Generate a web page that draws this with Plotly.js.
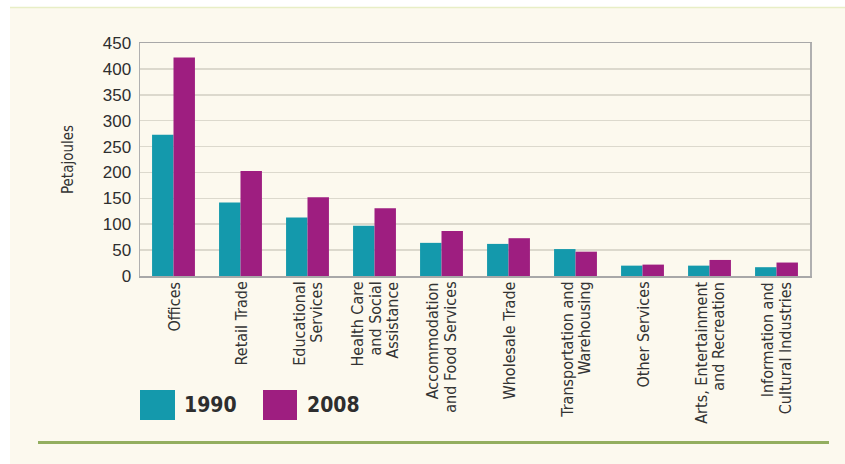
<!DOCTYPE html>
<html><head><meta charset="utf-8">
<script src="https://cdn.plot.ly/plotly-3.0.1.min.js"></script>
<style>html,body{margin:0;padding:0;background:#fff}#chart{width:845px;height:464px}</style>
</head><body><div id="chart"></div>
<script>
const categories = ["Offices","Retail Trade","Educational\nServices","Health Care\nand Social\nAssistance","Accommodation\nand Food Services","Wholesale Trade","Transportation and\nWarehousing","Other Services","Arts, Entertainment\nand Recreation","Information and\nCultural Industries"];
const seriesNames = ["1990","2008"];
const values1990 = [273,142,113,97,64,62,52,20,20,17];
const values2008 = [422,203,152,131,87,73,47,22,31,26];
const yTickVals = [0,50,100,150,200,250,300,350,400,450];
const yTitle = "Petajoules";

const W = 845, H = 464;
const M = {l:140, r:35, t:43, b:188};
const PW = W - M.l - M.r, PH = H - M.t - M.b;
const px2x = p => (p - M.l) / PW;
const py2y = p => (H - M.b - p) / PH;

const teal = "#1499ac", mag = "#9e1e80";
const narrow = '"DejaVu Sans Condensed", "Liberation Sans Narrow", sans-serif';
const txt = "#333333";

const traces = [
  {type:"bar", name:seriesNames[0], x:categories, y:values1990, marker:{color:teal}, hoverinfo:"y"},
  {type:"bar", name:seriesNames[1], x:categories, y:values2008, marker:{color:mag}, hoverinfo:"y"}
];

const annotations = [];
categories.forEach(c => {
  const lines = c.split("\n");
  const L = lines.length;
  lines.forEach((ln, j) => {
    annotations.push({
      x:c, xref:"x", y:0, yref:"paper", yanchor:"top", xanchor:"center",
      textangle:-90, text:ln, showarrow:false, yshift:-4,
      xshift:(j - (L-1)/2) * 17.5,
      font:{family:narrow, size:16, color:txt}
    });
  });
});
// legend text
const legX = [182, 305];
seriesNames.forEach((n, i) => {
  annotations.push({
    x:px2x(legX[i]), xref:"paper", y:py2y(405), yref:"paper",
    xanchor:"left", yanchor:"middle", text:"<b>"+n+"</b>", showarrow:false,
    font:{family:narrow, size:21, color:"#2e2e2e"}
  });
});

const legBoxes = [[140,175,teal],[263,297,mag]];
const shapes = [
  {type:"rect", xref:"paper", yref:"paper", layer:"below",
   x0:px2x(10), x1:px2x(846), y0:py2y(7), y1:py2y(465),
   fillcolor:"#fcf9ee", line:{width:0}},
  {type:"line", xref:"paper", yref:"paper", layer:"below",
   x0:px2x(10), x1:px2x(846), y0:py2y(7.5), y1:py2y(7.5),
   line:{color:"#e8eec6", width:1.5}},
  {type:"line", xref:"paper", yref:"paper",
   x0:px2x(38), x1:px2x(829), y0:py2y(442.5), y1:py2y(442.5),
   line:{color:"#93ae5f", width:3}}
];
legBoxes.forEach(b => shapes.push({
  type:"rect", xref:"paper", yref:"paper",
  x0:px2x(b[0]), x1:px2x(b[1]), y0:py2y(390), y1:py2y(420),
  fillcolor:b[2], line:{width:0}
}));

const layout = {
  width:W, height:H,
  margin:M,
  paper_bgcolor:"#ffffff",
  plot_bgcolor:"rgba(0,0,0,0)",
  showlegend:false,
  barmode:"group",
  bargap:0.36, bargroupgap:0,
  xaxis:{
    type:"category", showticklabels:false, ticks:"",
    showline:true, linecolor:"#a8a8a8", linewidth:1.5, mirror:true,
    showgrid:false, fixedrange:true
  },
  yaxis:{
    range:[0,450], tickvals:yTickVals, ticks:"",
    showline:true, linecolor:"#b0b0b0", linewidth:1.5, mirror:true,
    gridcolor:"#dcd9cd", gridwidth:1.5, zeroline:false,
    tickfont:{family:'"Liberation Sans", Arial, sans-serif', size:17, color:"#2e2e2e"},
    ticklabelstandoff:4,
    title:{text:yTitle, font:{family:narrow, size:15, color:txt}, standoff:25},
    fixedrange:true
  },
  annotations:annotations,
  shapes:shapes
};

Plotly.newPlot("chart", traces, layout, {displayModeBar:false, staticPlot:true});
</script>
</body></html>
